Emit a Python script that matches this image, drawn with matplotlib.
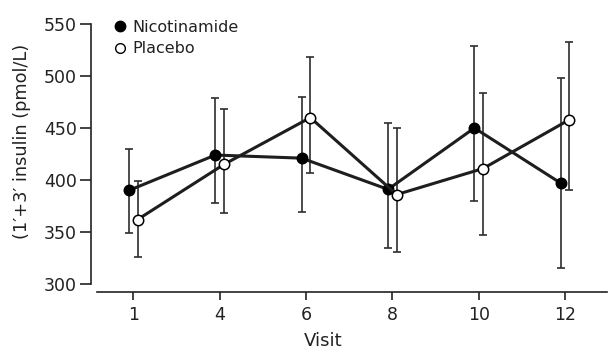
import numpy as np
import matplotlib
matplotlib.use("Agg")
import matplotlib.pyplot as plt
from matplotlib.lines import Line2D

plt.rcParams['font.family'] = ['DejaVu Sans']

visits = ['1', '4', '6', '8', '10', '12']

nic_mean = [390, 424, 421, 391, 450, 397]
nic_upper = [430, 479, 480, 455, 529, 498]
nic_lower = [349, 378, 369, 335, 380, 315]

pla_mean = [362, 415, 460, 386, 411, 458]
pla_upper = [399, 468, 518, 450, 484, 533]
pla_lower = [326, 368, 407, 331, 347, 390]

W, H = 608, 351
fig = plt.figure(figsize=(W / 100, H / 100), dpi=100)

# axes box in pixels: left spine at x=91, x-axis at y=291.7
left, right = 91, 607
bottom, top = 291.7, 15
ax = fig.add_axes([left / W, (H - bottom) / H, (right - left) / W, (bottom - top) / H])

x = np.arange(len(visits))
off = 0.05
dark = '#1e1e1e'


def draw(xpos, mean, upper, lower, face):
    mean = np.array(mean)
    yerr = [mean - np.array(lower), np.array(upper) - mean]
    ax.errorbar(xpos, mean, yerr=yerr, fmt='none', ecolor='#2e2e2e',
                elinewidth=1.2, capsize=3, capthick=1.2, zorder=2)
    ax.plot(xpos, mean, color=dark, lw=2.2, marker='o', markersize=7.5,
            markerfacecolor=face, markeredgecolor='black', markeredgewidth=1.1,
            zorder=3)


draw(x - off, nic_mean, nic_upper, nic_lower, 'black')
draw(x + off, pla_mean, pla_upper, pla_lower, 'white')

# scales: position 0 at 133.3 px, 86.35 px per visit step
px = 86.35
ax.set_xlim(-(133.3 - left) / px, (right - 133.3) / px)
ax.set_ylim(300 - (bottom - 284) / 1.04, 550 + (24 - top) / 1.04)

ax.set_xticks(x)
ax.set_xticklabels(visits)
ax.set_yticks([300, 350, 400, 450, 500, 550])

for s in ['top', 'right']:
    ax.spines[s].set_visible(False)
ax.spines['left'].set_bounds(300, 550)
ax.spines['bottom'].set_bounds(-(133.3 - 96.7) / px, (right - 133.3) / px)
for s in ['left', 'bottom']:
    ax.spines[s].set_linewidth(1.2)
    ax.spines[s].set_color('#222222')

ax.tick_params(axis='both', width=1.2, color='#222222',
               labelsize=12.5, labelcolor='#222222')
ax.tick_params(axis='y', length=8, pad=2)
ax.tick_params(axis='x', length=6, pad=4)

fig.text(323 / W, 1 - 341 / H, 'Visit', ha='center', va='center',
         fontsize=13, color='#222222')
fig.text(22 / W, 1 - 141 / H, '(1\u2032+3\u2032 insulin (pmol/L)', ha='center',
         va='center', rotation=90, fontsize=12.8, color='#222222')

handles = [
    Line2D([], [], ls='none', marker='o', markersize=7.5, markerfacecolor='black',
           markeredgecolor='black'),
    Line2D([], [], ls='none', marker='o', markersize=7, markerfacecolor='white',
           markeredgecolor='black'),
]
ax.legend(handles, ['Nicotinamide', 'Placebo'], loc='upper left',
          bbox_to_anchor=(113.6 / W, 1 - 20 / H), bbox_transform=fig.transFigure,
          frameon=False, handlelength=0.8, handletextpad=0.35, labelspacing=0.4,
          borderaxespad=0, borderpad=0, fontsize=11.5, labelcolor='#222222')

fig.savefig('out.png', dpi=100)
